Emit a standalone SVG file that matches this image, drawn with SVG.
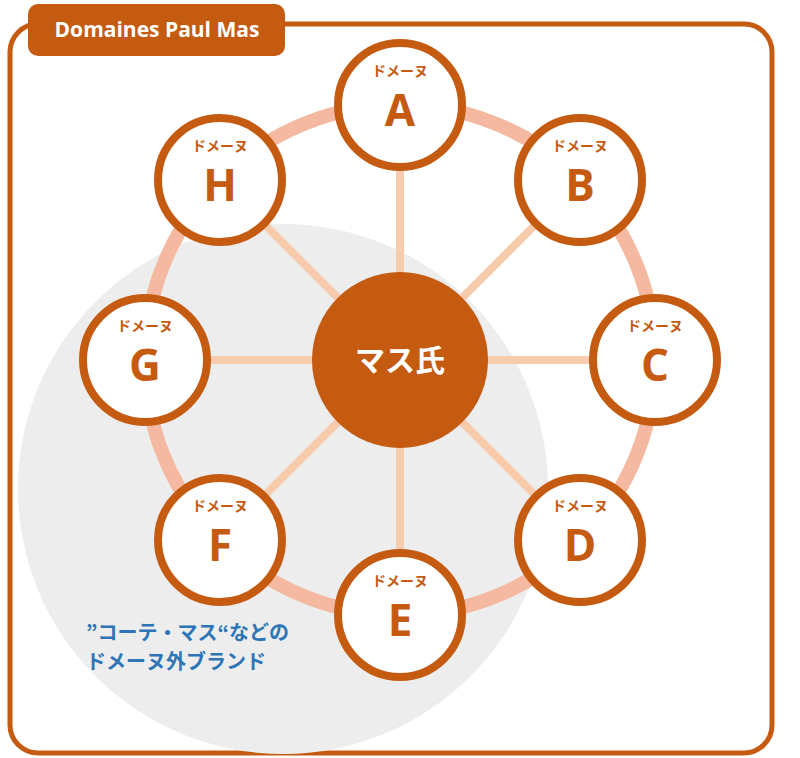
<svg xmlns="http://www.w3.org/2000/svg" width="800" height="758" viewBox="0 0 800 758">
<style>
.n circle{fill:#fff;stroke:#C55A11;stroke-width:8}
.lt{font-family:"Open Sans","Liberation Sans",sans-serif;font-weight:bold;font-size:44px;fill:#C55A11;text-anchor:middle}
.dm{font-family:"Noto Sans CJK JP",sans-serif;font-weight:bold;font-size:14px;fill:#C55A11;text-anchor:middle}
.sp line{stroke:#F8CBAD;stroke-width:8}
</style>
<rect width="800" height="758" fill="#fff"/>
<rect x="10" y="24" width="762" height="729" rx="28" fill="#fff" stroke="#C55A11" stroke-width="5"/>
<circle cx="283" cy="489" r="265" fill="#EDEDED"/>
<g id="tab"><rect x="28" y="4" width="257" height="52" rx="10" fill="#C55A11"/>
<text x="157" y="37" font-family="Open Sans,Liberation Sans,sans-serif" font-weight="bold" font-size="21" fill="#fff" text-anchor="middle">Domaines Paul Mas</text></g>
<g id="connectors">
<circle cx="400" cy="360" r="255" fill="none" stroke="#F4B9A0" stroke-width="14"/>
<g class="sp">
<line x1="400" y1="360" x2="400" y2="105"/><line x1="400" y1="360" x2="580" y2="180"/>
<line x1="400" y1="360" x2="655" y2="360"/><line x1="400" y1="360" x2="580" y2="540"/>
<line x1="400" y1="360" x2="400" y2="615"/><line x1="400" y1="360" x2="220" y2="540"/>
<line x1="400" y1="360" x2="145" y2="360"/><line x1="400" y1="360" x2="220" y2="180"/>
</g></g>
<g id="center"><circle cx="400" cy="360" r="88" fill="#C55A11"/>
<text x="400" y="371" font-family="Noto Sans CJK JP,sans-serif" font-weight="bold" font-size="30" fill="#fff" text-anchor="middle">マス氏</text></g>
<g id="A" class="n"><circle cx="400" cy="105" r="62"/><text class="dm" x="400" y="76">ドメーヌ</text><text class="lt" x="400" y="126">A</text></g>
<g id="B" class="n"><circle cx="580" cy="180" r="62"/><text class="dm" x="580" y="151">ドメーヌ</text><text class="lt" x="580" y="201">B</text></g>
<g id="C" class="n"><circle cx="655" cy="360" r="62"/><text class="dm" x="655" y="331">ドメーヌ</text><text class="lt" x="655" y="381">C</text></g>
<g id="D" class="n"><circle cx="580" cy="540" r="62"/><text class="dm" x="580" y="511">ドメーヌ</text><text class="lt" x="580" y="561">D</text></g>
<g id="E" class="n"><circle cx="400" cy="615" r="62"/><text class="dm" x="400" y="586">ドメーヌ</text><text class="lt" x="400" y="636">E</text></g>
<g id="F" class="n"><circle cx="220" cy="540" r="62"/><text class="dm" x="220" y="511">ドメーヌ</text><text class="lt" x="220" y="561">F</text></g>
<g id="G" class="n"><circle cx="145" cy="360" r="62"/><text class="dm" x="145" y="331">ドメーヌ</text><text class="lt" x="145" y="381">G</text></g>
<g id="H" class="n"><circle cx="220" cy="180" r="62"/><text class="dm" x="220" y="151">ドメーヌ</text><text class="lt" x="220" y="201">H</text></g>
<g id="label" font-family="Noto Sans CJK JP,sans-serif" font-weight="bold" font-size="20" fill="#2E75B6">
<text x="86" y="640">”コーテ・マス“などの</text><text x="86" y="669">ドメーヌ外ブランド</text></g>
</svg>
